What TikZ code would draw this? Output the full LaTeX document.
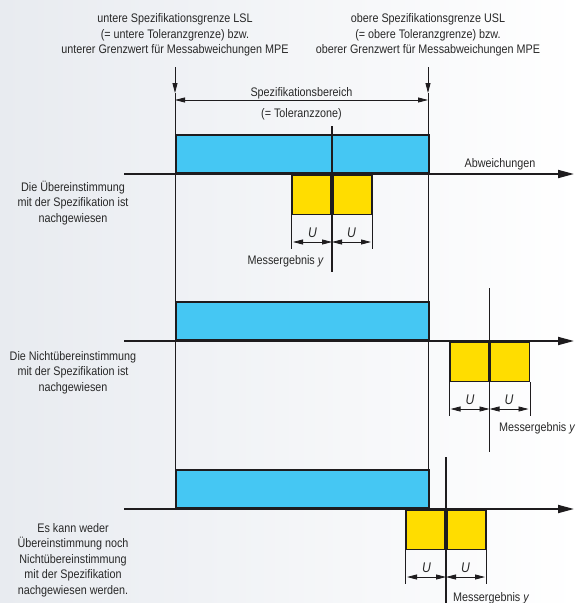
\documentclass[tikz,border=0pt]{standalone}
\usepackage{fontspec}
\setmainfont{Liberation Sans}[FakeStretch=0.87]
\usetikzlibrary{arrows.meta,positioning,calc}
\definecolor{specblue}{RGB}{69,199,243}
\definecolor{uyellow}{RGB}{255,221,0}
\definecolor{linegray}{RGB}{30,28,30}
\definecolor{textgray}{RGB}{40,40,40}
\definecolor{bgleft}{RGB}{232,235,240}

\begin{document}
\begin{tikzpicture}[x=1pt,y=-1pt,>={Triangle[length=10pt,width=5pt]},
    every node/.style={text=textgray,inner sep=0pt,font=\fontsize{12.4}{15.5}\selectfont},
    guide/.style={draw=linegray,line width=0.8pt},
    midline/.style={draw=linegray,line width=1.6pt},
    zone/.style={draw=linegray,line width=1.6pt,fill=specblue,anchor=south west,
        minimum width=253pt,minimum height=38pt},
    ubox/.style={draw=linegray,line width=1.6pt,fill=uyellow,
        minimum width=39pt,minimum height=39.5pt},
    axisline/.style={draw=linegray,line width=1.8pt,-{Triangle[length=16pt,width=8pt]}}]
        \fill[left color=bgleft,right color=white] (0,0) rectangle (578,603);
        \useasboundingbox (0,0) rectangle (578,603);
        % Grenzen
        \node[align=center] (lsltext) at (175,35) {untere Spezifikationsgrenze LSL\\(= untere Toleranzgrenze) bzw.\\unterer Grenzwert für Messabweichungen MPE};
        \node[align=center] (usltext) at (428,35) {obere Spezifikationsgrenze USL\\(= obere Toleranzgrenze) bzw.\\oberer Grenzwert für Messabweichungen MPE};
        \coordinate (lsltop) at (175,67);
        \coordinate (lsl) at (175,93);
        \coordinate (lslbot) at (175,470);
        \coordinate (usltop) at (428,67);
        \coordinate (usl) at (428,93);
        \coordinate (uslbot) at (428,470);
        \draw[guide,->] (lsltop) -- (lsl);
        \draw[guide,->] (usltop) -- (usl);
        \draw[guide] (lsl) -- (lslbot);
        \draw[guide] (usl) -- (uslbot);
        \draw[guide,<->] (lsl |- 0,100) coordinate (speca) -- (usl |- 0,100) coordinate (specb);
        \node[anchor=base] (spec) at (301.5,96) {Spezifikationsbereich};
        \node[anchor=base] (tolz) at (301.5,117) {(= Toleranzzone)};
        % drei Faelle
        \foreach \n/\ax/\cx/\ctop/\cbot in {1/174/332/126/272,2/341/489.5/288/452,3/509/446/457/603}{
            \node[zone] (zone\n) at (175,\ax) {};
            \coordinate (axs\n) at (124,\ax);
            \coordinate (axe\n) at (574,\ax);
            \draw[axisline] (axs\n) -- (axe\n);
            \node[ubox,anchor=north east] (ul\n) at (\cx,\ax) {};
            \node[ubox,anchor=north west] (ur\n) at (\cx,\ax) {};
            \coordinate (ct\n) at (\cx,\ctop);
            \coordinate (cb\n) at (\cx,\cbot);
            \draw[midline] (ct\n) -- (cb\n);
            \draw[guide] (ul\n.south west) -- ++(0,34);
            \draw[guide] (ur\n.south east) -- ++(0,34);
            \coordinate (ua\n) at ({\cx-39},{\ax+68});
            \coordinate (um\n) at (\cx,{\ax+68});
            \coordinate (ub\n) at ({\cx+39},{\ax+68});
            \draw[guide,<->] (ua\n) -- node[yshift=9.5pt,font=\fontsize{14}{16}\selectfont] {\textit{U}} (um\n);
            \draw[guide,<->] (um\n) -- node[yshift=9.5pt,font=\fontsize{14}{16}\selectfont] {\textit{U}} (ub\n);
        }
        \node[anchor=base] (dev) at (500,167) {Abweichungen};
        \node[anchor=base east] (res1) at (324,264) {Messergebnis \textit{y}};
        \node[anchor=base west] (res2) at (499,431) {Messergebnis \textit{y}};
        \node[anchor=base west] (res3) at (453,601) {Messergebnis \textit{y}};
        \node[align=center] (case1) at (73,203) {Die Übereinstimmung\\mit der Spezifikation ist\\nachgewiesen};
        \node[align=center] (case2) at (73,372.5) {Die Nichtübereinstimmung\\mit der Spezifikation ist\\nachgewiesen};
        \node[align=center] (case3) at (73,560) {Es kann weder\\Übereinstimmung noch\\Nichtübereinstimmung\\mit der Spezifikation\\nachgewiesen werden.};
\end{tikzpicture}
\end{document}
